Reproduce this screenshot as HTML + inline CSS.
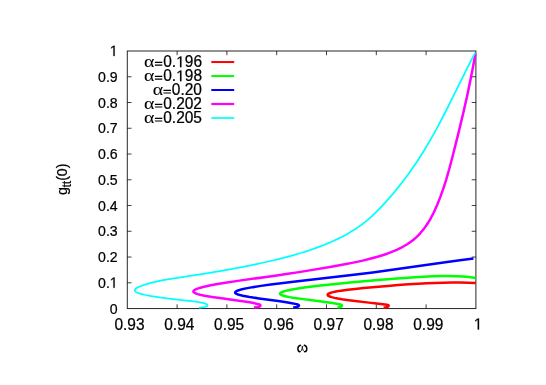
<!DOCTYPE html>
<html><head><meta charset="utf-8"><title>plot</title>
<style>
html,body{margin:0;padding:0;background:#fff;}
svg{display:block;will-change:transform;}
text{font-family:"Liberation Sans",sans-serif;fill:#000;stroke:#000;stroke-width:0.22px;}
.sym{stroke-width:0.05px;}
.sym{font-family:"Liberation Serif",serif;}
</style></head><body>
<svg width="546" height="385" viewBox="0 0 546 385">
<rect x="0" y="0" width="546" height="385" fill="#ffffff"/>
<g stroke="#000" stroke-width="1" fill="none" stroke-opacity="0.85">
<rect x="127.30" y="51.00" width="348.60" height="257.55"/>
<path d="M177.10 308.55V304.35 M177.10 51.00V55.20 M226.90 308.55V304.35 M226.90 51.00V55.20 M276.70 308.55V304.35 M276.70 51.00V55.20 M326.50 308.55V304.35 M326.50 51.00V55.20 M376.30 308.55V304.35 M376.30 51.00V55.20 M426.10 308.55V304.35 M426.10 51.00V55.20 M127.30 282.80H131.50 M475.90 282.80H471.70 M127.30 257.04H131.50 M475.90 257.04H471.70 M127.30 231.28H131.50 M475.90 231.28H471.70 M127.30 205.53H131.50 M475.90 205.53H471.70 M127.30 179.78H131.50 M475.90 179.78H471.70 M127.30 154.02H131.50 M475.90 154.02H471.70 M127.30 128.26H131.50 M475.90 128.26H471.70 M127.30 102.51H131.50 M475.90 102.51H471.70 M127.30 76.75H131.50 M475.90 76.75H471.70 " stroke-opacity="0.75"/>
</g>
<path d="M475.60 282.88 L467.76 282.68 L459.93 282.59 L452.09 282.60 L443.39 282.74 L435.55 282.96 L426.85 283.31 L418.14 283.75 L408.56 284.34 L398.12 285.08 L387.67 285.93 L363.62 288.07 L355.16 288.89 L347.88 289.72 L341.08 290.64 L335.77 291.55 L332.06 292.40 L330.05 293.02 L328.72 293.60 L328.22 293.91 L327.88 294.21 L327.68 294.51 L327.61 294.77 L327.67 295.08 L327.86 295.39 L328.58 295.95 L329.79 296.52 L331.62 297.14 L334.44 297.86 L337.77 298.54 L341.87 299.25 L346.92 299.99 L352.92 300.76 L368.86 302.63 L376.57 303.59 L384.91 304.47 L387.03 304.79 L388.13 305.09 L388.56 305.38 L388.65 305.60 L388.61 305.84 L388.50 306.06 L388.21 306.37 L387.46 306.79 L386.45 307.12 L385.05 307.40 L383.60 307.55" fill="none" stroke="#ff0000" stroke-width="2.50" stroke-linejoin="round" stroke-linecap="butt"/>
<path d="M475.60 277.89 L469.09 277.11 L462.59 276.56 L456.08 276.23 L448.65 276.07 L441.21 276.11 L432.85 276.35 L423.55 276.80 L411.47 277.53 L393.81 278.78 L375.22 280.28 L352.56 282.32 L332.98 284.24 L318.21 285.83 L306.11 287.32 L296.25 288.76 L291.91 289.51 L288.63 290.17 L285.58 290.89 L283.33 291.55 L281.65 292.22 L280.59 292.87 L280.26 293.22 L280.12 293.55 L280.12 293.82 L280.25 294.13 L280.56 294.46 L281.02 294.78 L282.43 295.42 L284.10 295.94 L286.54 296.53 L289.53 297.12 L292.94 297.68 L301.39 298.87 L319.74 301.19 L326.82 302.14 L332.45 303.00 L339.42 304.26 L340.67 304.59 L341.52 304.98 L341.80 305.27 L341.89 305.48 L341.89 305.72 L341.77 306.06 L341.27 306.55 L340.32 307.00 L338.90 307.36 L337.40 307.55" fill="none" stroke="#00ff00" stroke-width="2.50" stroke-linejoin="round" stroke-linecap="butt"/>
<path d="M473.48 258.50 L459.93 260.23 L447.16 261.95 L395.75 269.35 L372.71 272.46 L349.61 275.26 L293.43 281.67 L281.14 283.15 L270.67 284.50 L260.89 285.87 L252.77 287.14 L246.02 288.39 L240.86 289.59 L238.65 290.25 L236.98 290.90 L235.85 291.54 L235.49 291.85 L235.26 292.16 L235.16 292.47 L235.19 292.77 L235.35 293.07 L235.64 293.36 L236.60 293.94 L238.03 294.49 L239.94 295.05 L242.81 295.71 L249.58 296.96 L259.00 298.39 L278.23 301.04 L284.82 302.00 L290.49 302.95 L296.34 304.12 L297.73 304.51 L298.24 304.73 L298.63 304.98 L298.87 305.27 L298.95 305.60 L298.91 305.84 L298.69 306.17 L297.98 306.63 L296.69 307.06 L295.12 307.36 L293.20 307.55" fill="none" stroke="#0000ff" stroke-width="2.50" stroke-linejoin="round" stroke-linecap="butt"/>
<path d="M475.41 53.80 L472.86 67.83 L470.09 81.85 L466.84 97.15 L463.32 112.69 L458.50 132.85 L452.74 155.80 L449.19 169.24 L446.08 180.03 L443.21 188.95 L440.26 197.16 L437.24 204.72 L435.65 208.37 L434.00 211.95 L432.26 215.45 L430.88 218.03 L429.42 220.56 L427.89 223.05 L426.26 225.49 L424.54 227.89 L422.72 230.25 L420.79 232.57 L418.72 234.85 L416.48 237.07 L414.70 238.68 L412.22 240.70 L409.76 242.50 L407.19 244.21 L403.75 246.27 L401.28 247.61 L397.24 249.60 L394.30 250.90 L391.16 252.18 L387.79 253.45 L382.50 255.25 L378.37 256.53 L373.89 257.80 L369.05 259.08 L363.81 260.35 L358.16 261.63 L352.07 262.90 L346.11 264.07 L331.36 266.73 L309.64 270.39 L297.40 272.36 L288.03 273.80 L275.16 275.67 L237.76 280.88 L226.99 282.49 L217.51 284.05 L209.49 285.54 L203.03 286.98 L200.41 287.68 L198.20 288.36 L195.67 289.35 L194.50 290.00 L193.75 290.63 L193.53 290.95 L193.41 291.25 L193.40 291.56 L193.48 291.86 L193.67 292.16 L194.34 292.74 L195.84 293.50 L197.68 294.14 L200.05 294.78 L204.55 295.72 L211.90 296.94 L219.80 298.08 L238.97 300.69 L248.05 302.06 L253.84 303.10 L258.67 304.23 L259.72 304.65 L260.09 304.89 L260.33 305.17 L260.44 305.48 L260.44 305.72 L260.34 305.95 L260.03 306.27 L259.15 306.71 L257.91 307.06 L256.16 307.36 L254.00 307.55" fill="none" stroke="#ff00ff" stroke-width="2.50" stroke-linejoin="round" stroke-linecap="butt"/>
<path d="M475.10 52.90 L470.40 61.86 L465.84 70.82 L450.95 100.95 L446.17 110.51 L441.93 118.77 L438.18 125.87 L432.56 136.11 L427.10 145.55 L421.91 154.03 L415.97 163.19 L412.62 168.11 L409.02 173.19 L405.22 178.35 L401.85 182.77 L397.78 187.91 L394.05 192.44 L390.30 196.84 L386.26 201.40 L382.64 205.35 L378.32 209.90 L375.32 212.92 L372.01 216.07 L368.35 219.32 L365.26 221.88 L361.94 224.44 L358.54 226.89 L354.99 229.27 L351.25 231.61 L348.22 233.40 L344.58 235.42 L341.10 237.24 L337.33 239.11 L333.10 241.08 L329.49 242.68 L324.47 244.77 L320.99 246.14 L315.54 248.16 L311.76 249.48 L306.22 251.32 L301.77 252.72 L290.99 255.84 L279.42 258.86 L267.13 261.76 L254.20 264.57 L237.98 267.79 L223.99 270.36 L209.65 272.83 L195.06 275.20 L169.16 279.21 L161.74 280.48 L157.44 281.30 L154.03 282.05 L150.65 282.91 L146.70 284.07 L143.24 285.20 L140.28 286.30 L138.62 287.02 L136.66 288.06 L135.73 288.74 L135.11 289.40 L134.93 289.73 L134.82 290.05 L134.80 290.37 L134.86 290.69 L135.02 291.01 L135.56 291.61 L135.95 291.92 L137.00 292.51 L139.19 293.37 L142.05 294.21 L145.50 295.01 L151.38 296.13 L159.67 297.41 L170.64 298.81 L188.32 300.79 L194.17 301.49 L199.79 302.31 L202.19 302.77 L203.95 303.21 L205.96 303.89 L206.60 304.20 L206.99 304.48 L207.33 304.88 L207.49 305.37 L207.48 305.72 L207.24 306.06 L206.94 306.27 L206.30 306.55 L204.48 307.00 L201.77 307.36 L198.90 307.55" fill="none" stroke="#00ffff" stroke-width="1.75" stroke-linejoin="round" stroke-linecap="butt"/>
<g font-size="15.50">
<g font-size="14.10"><g transform="translate(109.86 313.60) scale(1 1.070)" fill="#000" stroke="#000"><text x="0.00" y="0">0</text></g></g>
<g font-size="14.10"><g transform="translate(98.10 287.85) scale(1 1.070)" fill="#000" stroke="#000"><text x="0.00" y="0">0.</text><path transform="translate(11.76 0) scale(0.00688 -0.00688)" d="M515 0V1237L197 1010V1180L530 1409H696V0Z" stroke-width="32.0"/></g></g>
<g font-size="14.10"><g transform="translate(98.10 262.09) scale(1 1.070)" fill="#000" stroke="#000"><text x="0.00" y="0">0.2</text></g></g>
<g font-size="14.10"><g transform="translate(98.10 236.34) scale(1 1.070)" fill="#000" stroke="#000"><text x="0.00" y="0">0.3</text></g></g>
<g font-size="14.10"><g transform="translate(98.10 210.58) scale(1 1.070)" fill="#000" stroke="#000"><text x="0.00" y="0">0.4</text></g></g>
<g font-size="14.10"><g transform="translate(98.10 184.83) scale(1 1.070)" fill="#000" stroke="#000"><text x="0.00" y="0">0.5</text></g></g>
<g font-size="14.10"><g transform="translate(98.10 159.07) scale(1 1.070)" fill="#000" stroke="#000"><text x="0.00" y="0">0.6</text></g></g>
<g font-size="14.10"><g transform="translate(98.10 133.31) scale(1 1.070)" fill="#000" stroke="#000"><text x="0.00" y="0">0.7</text></g></g>
<g font-size="14.10"><g transform="translate(98.10 107.56) scale(1 1.070)" fill="#000" stroke="#000"><text x="0.00" y="0">0.8</text></g></g>
<g font-size="14.10"><g transform="translate(98.10 81.80) scale(1 1.070)" fill="#000" stroke="#000"><text x="0.00" y="0">0.9</text></g></g>
<g font-size="14.10"><g transform="translate(109.86 56.05) scale(1 1.070)" fill="#000" stroke="#000"><path transform="translate(0.00 0) scale(0.00688 -0.00688)" d="M515 0V1237L197 1010V1180L530 1409H696V0Z" stroke-width="32.0"/></g></g>
<g transform="translate(114.42 329.55) scale(1 1.040)" fill="#000" stroke="#000"><text x="0.00" y="0">0.93</text></g>
<g transform="translate(164.22 329.55) scale(1 1.040)" fill="#000" stroke="#000"><text x="0.00" y="0">0.94</text></g>
<g transform="translate(214.02 329.55) scale(1 1.040)" fill="#000" stroke="#000"><text x="0.00" y="0">0.95</text></g>
<g transform="translate(263.82 329.55) scale(1 1.040)" fill="#000" stroke="#000"><text x="0.00" y="0">0.96</text></g>
<g transform="translate(313.62 329.55) scale(1 1.040)" fill="#000" stroke="#000"><text x="0.00" y="0">0.97</text></g>
<g transform="translate(363.42 329.55) scale(1 1.040)" fill="#000" stroke="#000"><text x="0.00" y="0">0.98</text></g>
<g transform="translate(413.22 329.55) scale(1 1.040)" fill="#000" stroke="#000"><text x="0.00" y="0">0.99</text></g>
<g transform="translate(473.79 329.55) scale(1 1.040)" fill="#000" stroke="#000"><path transform="translate(0.00 0) scale(0.00757 -0.00757)" d="M515 0V1237L197 1010V1180L530 1409H696V0Z" stroke-width="29.1"/></g>
<g transform="translate(154.17 67.15) scale(1 1.010)" fill="#000" stroke="#000"><path d="M0.70 -4.73H8.14 M0.70 -2.09H8.14" fill="none" stroke-width="1.2"/><text x="9.05" y="0">0.</text><path transform="translate(21.98 0) scale(0.00757 -0.00757)" d="M515 0V1237L197 1010V1180L530 1409H696V0Z" stroke-width="29.1"/><text x="30.60" y="0">96</text></g>
<text class="sym" transform="translate(154.47 67.35) scale(1.28 1.080)" text-anchor="end">α</text>
<path d="M211.3 62.05H234.2" stroke="#ff0000" stroke-width="2.00" fill="none"/>
<g transform="translate(154.17 81.15) scale(1 1.010)" fill="#000" stroke="#000"><path d="M0.70 -4.73H8.14 M0.70 -2.09H8.14" fill="none" stroke-width="1.2"/><text x="9.05" y="0">0.</text><path transform="translate(21.98 0) scale(0.00757 -0.00757)" d="M515 0V1237L197 1010V1180L530 1409H696V0Z" stroke-width="29.1"/><text x="30.60" y="0">98</text></g>
<text class="sym" transform="translate(154.47 81.35) scale(1.28 1.080)" text-anchor="end">α</text>
<path d="M211.3 76.05H234.2" stroke="#00ff00" stroke-width="2.00" fill="none"/>
<g transform="translate(162.78 95.10) scale(1 1.010)" fill="#000" stroke="#000"><path d="M0.70 -4.73H8.14 M0.70 -2.09H8.14" fill="none" stroke-width="1.2"/><text x="9.05" y="0">0.20</text></g>
<text class="sym" transform="translate(163.09 95.30) scale(1.28 1.080)" text-anchor="end">α</text>
<path d="M211.3 90.00H234.2" stroke="#0000ff" stroke-width="2.00" fill="none"/>
<g transform="translate(154.17 109.10) scale(1 1.010)" fill="#000" stroke="#000"><path d="M0.70 -4.73H8.14 M0.70 -2.09H8.14" fill="none" stroke-width="1.2"/><text x="9.05" y="0">0.202</text></g>
<text class="sym" transform="translate(154.47 109.30) scale(1.28 1.080)" text-anchor="end">α</text>
<path d="M211.3 104.00H234.2" stroke="#ff00ff" stroke-width="2.20" fill="none"/>
<g transform="translate(154.17 123.10) scale(1 1.010)" fill="#000" stroke="#000"><path d="M0.70 -4.73H8.14 M0.70 -2.09H8.14" fill="none" stroke-width="1.2"/><text x="9.05" y="0">0.205</text></g>
<text class="sym" transform="translate(154.47 123.30) scale(1.28 1.080)" text-anchor="end">α</text>
<path d="M211.3 118.00H234.2" stroke="#00ffff" stroke-width="1.70" fill="none"/>
</g>
<g transform="translate(297.15 344.95) scale(1 1.07)" fill="none" stroke="#000" stroke-linecap="round" stroke-linejoin="round">
<path d="M3.1 0.35 C1.5 0.9 0.75 2.2 0.75 3.6 C0.75 5.3 1.6 6.3 2.75 6.3" stroke-width="1.45"/>
<path d="M2.75 6.3 C4.2 6.3 5.0 4.6 5.15 1.7" stroke-width="0.85"/>
<path d="M7.3 0.35 C8.9 0.9 9.65 2.2 9.65 3.6 C9.65 5.3 8.8 6.3 7.65 6.3" stroke-width="1.45"/>
<path d="M7.65 6.3 C6.2 6.3 5.4 4.6 5.25 1.7" stroke-width="0.85"/>
<path d="M3.1 0.35 C3.5 0.25 3.9 0.5 4.0 0.9 M7.3 0.35 C6.9 0.25 6.5 0.5 6.4 0.9" stroke-width="0.7"/>
</g>
<text transform="translate(67.1 179.3) rotate(-90) scale(1 1.07)" text-anchor="middle" font-size="14.20">g<tspan font-size="11.36" dy="3.9">tt</tspan><tspan dy="-3.9">(0)</tspan></text>
</svg></body></html>
